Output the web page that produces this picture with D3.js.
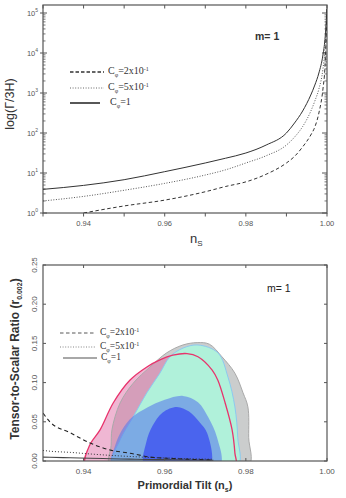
<!DOCTYPE html>
<html><head><meta charset="utf-8">
<script src="https://cdn.jsdelivr.net/npm/d3@7"></script>
<style>
body{margin:0;background:#fff;}
svg{display:block;font-family:"Liberation Sans",Arial,sans-serif;}
</style></head>
<body>
<svg id="c" width="346" height="498"></svg>
<script>
// ---------- Top panel data: log(Gamma/3H) vs n_s ----------
const nsTop      = [0.93, 0.94, 0.95, 0.96, 0.97, 0.975, 0.98, 0.985, 0.99, 0.992, 0.994, 0.996, 0.997, 0.998, 0.999, 0.9995, 1.0];
const gammaC1    = [3.9, 4.9, 6.8, 10.8, 17.8, 23.4, 31.6, 50, 100, 178, 355, 890, 1580, 3160, 8900, 22000, 126000];
const gammaC05   = [2.0, 2.6, 3.7, 5.5, 8.9, 12, 17.8, 27, 50, 79, 145, 350, 630, 1260, 4000, 12600, 126000];
const nsDash     = [0.94, 0.95, 0.96, 0.97, 0.975, 0.98, 0.985, 0.99, 0.992, 0.994, 0.996, 0.997, 0.998, 0.999, 0.9995, 1.0];
const gammaC02   = [1.0, 1.5, 2.1, 3.4, 4.6, 6.0, 9.3, 17.8, 26, 45, 89, 141, 316, 1260, 4470, 126000];
const topXTicks  = [0.94, 0.96, 0.98, 1.00];
const topYTicks  = [1, 10, 100, 1000, 10000, 100000];
const legendTop  = ["2x10", "5x10", "1"];

// ---------- Bottom panel data: r vs n_s ----------
const nsLines    = [0.93, 0.9317, 0.9367, 0.9416, 0.9465, 0.9514, 0.9564, 0.962, 0.967, 0.972];
const rDash      = [0.061, 0.050, 0.036, 0.023, 0.014, 0.010, 0.005, 0.0032, 0.002, 0.0012];
const rDot       = [0.0135, 0.0125, 0.011, 0.009, 0.0072, 0.0058, 0.0045, 0.0035, 0.0028, 0.0022];
const rSolid     = [0.005, 0.0047, 0.0041, 0.0035, 0.0029, 0.0024, 0.0019, 0.0015, 0.0012, 0.001];
const grayContour = [[0.9465,-0.006],[0.9468,0.02],[0.947,0.04],[0.949,0.074],[0.9522,0.099],[0.9564,0.12],[0.9605,0.138],[0.9645,0.148],[0.968,0.151],[0.971,0.149],[0.9741,0.133],[0.9773,0.112],[0.9793,0.087],[0.9805,0.069],[0.9807,0.03],[0.9807,-0.006],[0.963,-0.01]];
const redContour  = [[0.9405,-0.006],[0.9415,0.02],[0.9441,0.040],[0.9473,0.074],[0.9514,0.103],[0.9556,0.12],[0.9588,0.129],[0.962,0.135],[0.9655,0.137],[0.9682,0.133],[0.9717,0.116],[0.9731,0.103],[0.9749,0.074],[0.9766,0.040],[0.9773,0.01],[0.9774,-0.006],[0.959,-0.01]];
const mintContour = [[0.947,-0.006],[0.949,0.027],[0.9522,0.056],[0.9556,0.087],[0.9588,0.112],[0.9613,0.133],[0.9645,0.144],[0.9682,0.148],[0.9731,0.138],[0.9756,0.107],[0.9773,0.069],[0.978,0.03],[0.978,-0.006],[0.962,-0.01]];
const blueOuter   = [[0.947,-0.006],[0.9478,0.02],[0.9495,0.04],[0.952,0.056],[0.9556,0.068],[0.960,0.078],[0.9645,0.083],[0.9682,0.075],[0.9707,0.056],[0.9729,0.03],[0.9736,-0.006],[0.960,-0.01]];
const blueInner   = [[0.955,-0.006],[0.9555,0.025],[0.957,0.045],[0.9595,0.062],[0.963,0.069],[0.966,0.063],[0.9685,0.05],[0.9705,0.035],[0.9712,-0.006],[0.963,-0.01]];
const botXTicks  = [0.94, 0.96, 0.98, 1.00];
const botYTicks  = [0.00, 0.05, 0.10, 0.15, 0.20, 0.25];
const legendBot  = ["2x10", "5x10", "1"];

const svg = d3.select("#c");
const axisCol = "#555";
const tickCol = "#555";

// ================= TOP PANEL =================
const x1 = d3.scaleLinear().domain([0.93, 1.0]).range([43, 327]);
const y1 = d3.scaleLog().domain([1, Math.pow(10, 5.2)]).range([213, 5]);
const g1 = svg.append("g");
g1.append("clipPath").attr("id","clip1").append("rect").attr("x",43).attr("y",5).attr("width",284).attr("height",208);

const minorX = d3.range(0.93, 1.0001, 0.01);
minorX.forEach(v=>{
  const xx = x1(v);
  g1.append("line").attr("x1",xx).attr("x2",xx).attr("y1",213).attr("y2",216.5).attr("stroke",axisCol).attr("stroke-width",1);
  g1.append("line").attr("x1",xx).attr("x2",xx).attr("y1",5).attr("y2",8.5).attr("stroke",axisCol).attr("stroke-width",1);
});
for(let e=0;e<=5;e++){
  for(let k=2;k<=9;k++){
    const v = k*Math.pow(10,e);
    if(v>Math.pow(10,5.2)) continue;
    const yy=y1(v);
    g1.append("line").attr("x1",43).attr("x2",45.5).attr("y1",yy).attr("y2",yy).attr("stroke",axisCol).attr("stroke-width",0.8);
    g1.append("line").attr("x1",327).attr("x2",324.5).attr("y1",yy).attr("y2",yy).attr("stroke",axisCol).attr("stroke-width",0.8);
  }
}
topYTicks.forEach((v,i)=>{
  const yy=y1(v);
  g1.append("line").attr("x1",40).attr("x2",47).attr("y1",yy).attr("y2",yy).attr("stroke",axisCol).attr("stroke-width",1);
  g1.append("line").attr("x1",327).attr("x2",322).attr("y1",yy).attr("y2",yy).attr("stroke",axisCol).attr("stroke-width",1);
  const t = g1.append("text").attr("x",38).attr("y",yy+2.5).attr("text-anchor","end").attr("font-size",7.5).attr("fill",tickCol);
  t.append("tspan").text("10");
  t.append("tspan").attr("dy",-3.5).attr("font-size",5).text(String(i));
});
topXTicks.forEach(v=>{
  g1.append("text").attr("x",x1(v)).attr("y",226).attr("text-anchor","middle").attr("font-size",7.5).attr("fill",tickCol).text(v.toFixed(2));
});
g1.append("rect").attr("x",43).attr("y",5).attr("width",284).attr("height",208).attr("fill","none").attr("stroke",axisCol).attr("stroke-width",1.2);

const lineTop = d3.line().x(d=>x1(d[0])).y(d=>y1(d[1])).curve(d3.curveMonotoneX);
const cg1 = g1.append("g").attr("clip-path","url(#clip1)");
cg1.append("path").attr("d",lineTop(nsTop.map((n,i)=>[n,gammaC1[i]]))).attr("fill","none").attr("stroke","#333").attr("stroke-width",1);
cg1.append("path").attr("d",lineTop(nsTop.map((n,i)=>[n,gammaC05[i]]))).attr("fill","none").attr("stroke","#555").attr("stroke-width",1).attr("stroke-dasharray","1,1.6");
cg1.append("path").attr("d",lineTop(nsDash.map((n,i)=>[n,gammaC02[i]]))).attr("fill","none").attr("stroke","#333").attr("stroke-width",1).attr("stroke-dasharray","3.5,2.5");

g1.append("text").attr("transform","translate(14,104) rotate(-90)").attr("text-anchor","middle").attr("font-size",12.5).attr("fill","#333").text("log(Γ/3H)");
const nsT = g1.append("text").attr("x",190).attr("y",243).attr("font-size",13).attr("fill","#333");
nsT.append("tspan").text("n");
nsT.append("tspan").attr("dy",3).attr("font-size",8).text("S");
g1.append("text").attr("x",255).attr("y",40).attr("font-size",10.5).attr("font-weight","bold").attr("fill","#333").text("m= 1");

const legYTop=[72,88,103];
const legStyles=[{dash:"3.5,2",col:"#333",w:1.3},{dash:"1,1.6",col:"#666",w:1},{dash:null,col:"#444",w:1.8}];
legendTop.forEach((lab,i)=>{
  const yy=legYTop[i];
  const l=g1.append("line").attr("x1",70).attr("x2",i==2?100:104).attr("y1",yy).attr("y2",yy).attr("stroke",legStyles[i].col).attr("stroke-width",legStyles[i].w);
  if(legStyles[i].dash) l.attr("stroke-dasharray",legStyles[i].dash);
  const t=g1.append("text").attr("x",i==2?110:108).attr("y",yy+2).attr("font-family","'Liberation Serif',serif").attr("font-size",10).attr("fill","#333");
  t.append("tspan").text("C");
  t.append("tspan").attr("dy",3).attr("font-size",6).text("φ");
  t.append("tspan").attr("dy",-3).text("="+lab);
  if(i<2) t.append("tspan").attr("dy",-3.5).attr("font-size",6).text("-1");
});

// ================= BOTTOM PANEL =================
const x2 = d3.scaleLinear().domain([0.93, 1.0]).range([43, 327]);
const y2 = d3.scaleLinear().domain([0, 0.25]).range([461, 265]);
const g2 = svg.append("g");
g2.append("clipPath").attr("id","clip2").append("rect").attr("x",43).attr("y",265).attr("width",284).attr("height",196);
const cg2 = g2.append("g").attr("clip-path","url(#clip2)");
const area = d3.line().x(d=>x2(d[0])).y(d=>y2(d[1])).curve(d3.curveCatmullRomClosed.alpha(0.5));

cg2.append("path").attr("d",area(grayContour)).attr("fill","#cbcdcd").attr("stroke","none");
cg2.append("path").attr("d",area(redContour)).attr("fill","#e070a8").attr("fill-opacity",0.5).attr("stroke","none");
cg2.append("path").attr("d",area(grayContour)).attr("fill","none").attr("stroke","#a9a9a9").attr("stroke-width",1);
cg2.append("path").attr("d",area(mintContour)).attr("fill","#b0f1da").attr("stroke","#8ccaf0").attr("stroke-width",1);
cg2.append("path").attr("d",area(blueOuter)).attr("fill","#5a7deb").attr("fill-opacity",0.6).attr("stroke","none");
cg2.append("path").attr("d",area(blueInner)).attr("fill","#4a64ee").attr("stroke","none");
cg2.append("path").attr("d",area(redContour)).attr("fill","none").attr("stroke","#e8336c").attr("stroke-width",1.3);

const lineBot = d3.line().x(d=>x2(d[0])).y(d=>y2(d[1])).curve(d3.curveMonotoneX);
cg2.append("path").attr("d",lineBot(nsLines.map((n,i)=>[n,rSolid[i]]))).attr("fill","none").attr("stroke","#444").attr("stroke-width",1.1);
cg2.append("path").attr("d",lineBot(nsLines.map((n,i)=>[n,rDot[i]]))).attr("fill","none").attr("stroke","#333").attr("stroke-width",1).attr("stroke-dasharray","1,2");
cg2.append("path").attr("d",lineBot(nsLines.map((n,i)=>[n,rDash[i]]))).attr("fill","none").attr("stroke","#222").attr("stroke-width",1.1).attr("stroke-dasharray","4,3");

botYTicks.forEach(v=>{
  const yy=y2(v);
  g2.append("line").attr("x1",43).attr("x2",46).attr("y1",yy).attr("y2",yy).attr("stroke",axisCol);
  g2.append("line").attr("x1",327).attr("x2",324).attr("y1",yy).attr("y2",yy).attr("stroke",axisCol);
  g2.append("text").attr("transform",`translate(37,${yy}) rotate(-90)`).attr("text-anchor","middle").attr("font-size",8).attr("fill",tickCol).text(v.toFixed(2));
});
botXTicks.forEach(v=>{
  const xx=x2(v);
  g2.append("line").attr("x1",xx).attr("x2",xx).attr("y1",265).attr("y2",268).attr("stroke",axisCol);
  g2.append("line").attr("x1",xx).attr("x2",xx).attr("y1",461).attr("y2",458).attr("stroke",axisCol);
  g2.append("text").attr("x",xx).attr("y",474).attr("text-anchor","middle").attr("font-size",8).attr("fill",tickCol).text(v.toFixed(2));
});
g2.append("rect").attr("x",43).attr("y",265).attr("width",284).attr("height",196).attr("fill","none").attr("stroke",axisCol).attr("stroke-width",1.2);

const yt = g2.append("text").attr("transform","translate(19,359) rotate(-90)").attr("text-anchor","middle").attr("font-size",12).attr("font-weight","bold").attr("fill","#333");
yt.append("tspan").text("Tensor-to-Scalar Ratio (r");
yt.append("tspan").attr("dy",3).attr("font-size",7).text("0.002");
yt.append("tspan").attr("dy",-3).text(")");
const xt = g2.append("text").attr("x",185).attr("y",489).attr("text-anchor","middle").attr("font-size",11).attr("font-weight","bold").attr("fill","#333");
xt.append("tspan").text("Primordial Tilt (n");
xt.append("tspan").attr("dy",3).attr("font-size",7).text("s");
xt.append("tspan").attr("dy",-3).text(")");
g2.append("text").attr("x",267).attr("y",292).attr("font-size",10.5).attr("fill","#222").text("m= 1");

const legYBot=[333,347,358];
const legStylesB=[{dash:"3.5,2.5",col:"#444",w:0.9},{dash:"1,1.6",col:"#777",w:0.9},{dash:null,col:"#a8a8a8",w:2.2}];
legendBot.forEach((lab,i)=>{
  const yy=legYBot[i];
  const l=g2.append("line").attr("x1",i==2?63:60).attr("x2",i==2?97:95).attr("y1",yy).attr("y2",yy).attr("stroke",legStylesB[i].col).attr("stroke-width",legStylesB[i].w);
  if(legStylesB[i].dash) l.attr("stroke-dasharray",legStylesB[i].dash);
  const t=g2.append("text").attr("x",i==2?101:100).attr("y",yy+2).attr("font-family","'Liberation Serif',serif").attr("font-size",9.5).attr("fill","#333");
  t.append("tspan").text("C");
  t.append("tspan").attr("dy",3).attr("font-size",6).text("φ");
  t.append("tspan").attr("dy",-3).text("="+lab);
  if(i<2) t.append("tspan").attr("dy",-3.5).attr("font-size",6).text("-1");
});
</script>
</body></html>
